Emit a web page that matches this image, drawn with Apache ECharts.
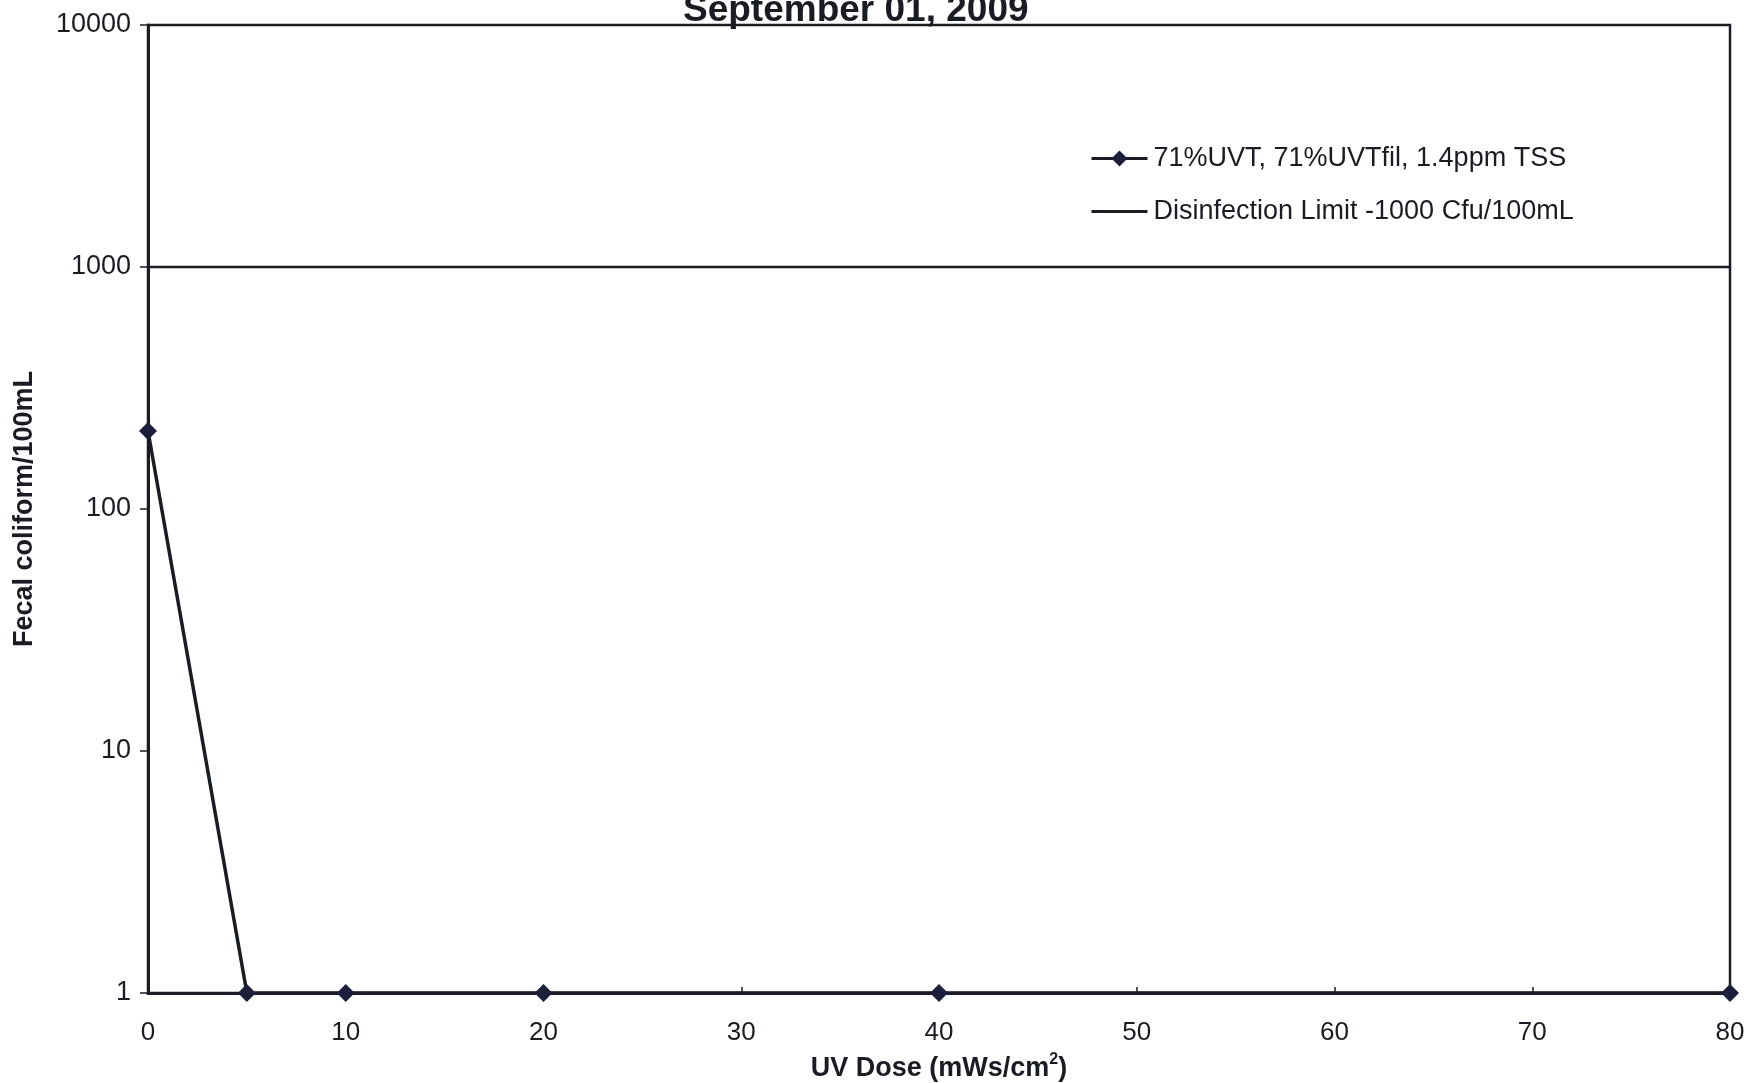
<!DOCTYPE html>
<html>
<head>
<meta charset="utf-8">
<title>Fecal coliform vs UV dose</title>
<script src="https://cdn.jsdelivr.net/npm/echarts@6/dist/echarts.min.js"></script>
<style>
  html, body { margin: 0; padding: 0; background: #ffffff; }
  #chart { width: 1747px; height: 1083px; }
</style>
</head>
<body>
<div id="chart"></div>
<script>
// UV dose steps (mWs/cm2) and fecal coliform counts (cfu/100mL)
const doses = [0, 5, 10, 20, 40, 80];
const coliform = [210, 1, 1, 1, 1, 1];

// Disinfection limit drawn across the dose range
const limitDoses = [0, 80];
const limitValues = [1000, 1000];

const seriesNames = ['71%UVT, 71%UVTfil, 1.4ppm TSS', 'Disinfection Limit -1000 Cfu/100mL'];
const xTicks = { min: 0, max: 80, interval: 10 };
const yTicks = { min: 1, max: 10000 };

const FONT = "'Liberation Sans', Arial, sans-serif";
const INK = '#1a1c24';

const chart = echarts.init(document.getElementById('chart'), null, { renderer: 'canvas' });

chart.setOption({
  backgroundColor: '#ffffff',
  animation: false,
  title: {
    text: 'September 01, 2009',
    left: 678,
    top: -13,
    textStyle: { fontFamily: FONT, fontSize: 37, fontWeight: 'bold', color: INK }
  },
  legend: {
    orient: 'vertical',
    left: 1085,
    top: 140,
    itemWidth: 56,
    itemHeight: 20,
    itemGap: 26,
    lineStyle: { width: 3 },
    textStyle: { fontFamily: FONT, fontSize: 27, color: INK, padding: [0, 0, 0, 1] },
    data: [
      { name: seriesNames[0] },
      // plain line swatch for the limit
      { name: seriesNames[1], icon: 'path://M0,0 L56,0 L56,3 L0,3 Z', itemStyle: { color: INK } }
    ]
  },
  grid: {
    left: 148,
    right: 17,
    top: 25,
    bottom: 90,
    outerBoundsMode: 'none',
    show: true,
    borderColor: INK,
    borderWidth: 2.5,
    backgroundColor: 'transparent'
  },
  xAxis: {
    type: 'value',
    min: xTicks.min,
    max: xTicks.max,
    interval: xTicks.interval,
    name: 'UV Dose (mWs/cm{sup|2})',
    nameLocation: 'middle',
    nameGap: 59,
    nameTextStyle: {
      fontFamily: FONT, fontSize: 27, fontWeight: 'bold', color: INK,
      rich: { sup: { fontFamily: FONT, fontSize: 16, fontWeight: 'bold', color: INK, padding: [0, 0, 18, 0] } }
    },
    axisLine: { show: true, onZero: false, lineStyle: { color: INK, width: 3 } },
    axisTick: { show: true, inside: true, length: 6, lineStyle: { color: INK, width: 1.5 } },
    axisLabel: { margin: 27, fontFamily: FONT, fontSize: 26, color: INK },
    splitLine: { show: false }
  },
  yAxis: {
    type: 'log',
    logBase: 10,
    min: yTicks.min,
    max: yTicks.max,
    name: 'Fecal coliform/100mL',
    nameLocation: 'middle',
    nameGap: 110,
    nameTextStyle: { fontFamily: FONT, fontSize: 27, fontWeight: 'bold', color: INK },
    axisLine: { show: true, lineStyle: { color: INK, width: 3 } },
    axisTick: { show: true, inside: false, length: 8, lineStyle: { color: INK, width: 1.5 } },
    axisLabel: {
      margin: 17, fontFamily: FONT, fontSize: 27, color: INK,
      formatter: v => String(Math.round(v))
    },
    splitLine: { show: false },
    minorTick: { show: false }
  },
  series: [
    {
      name: seriesNames[0],
      type: 'line',
      data: doses.map((d, i) => [d, coliform[i]]),
      symbol: 'diamond',
      symbolSize: 18,
      showSymbol: true,
      clip: false,
      lineStyle: { color: INK, width: 3.5 },
      itemStyle: { color: '#1b1f3c' },
      z: 5
    },
    {
      name: seriesNames[1],
      type: 'line',
      data: limitDoses.map((d, i) => [d, limitValues[i]]),
      symbol: 'none',
      lineStyle: { color: INK, width: 2.5 },
      itemStyle: { color: INK },
      z: 4
    }
  ]
});
</script>
</body>
</html>
